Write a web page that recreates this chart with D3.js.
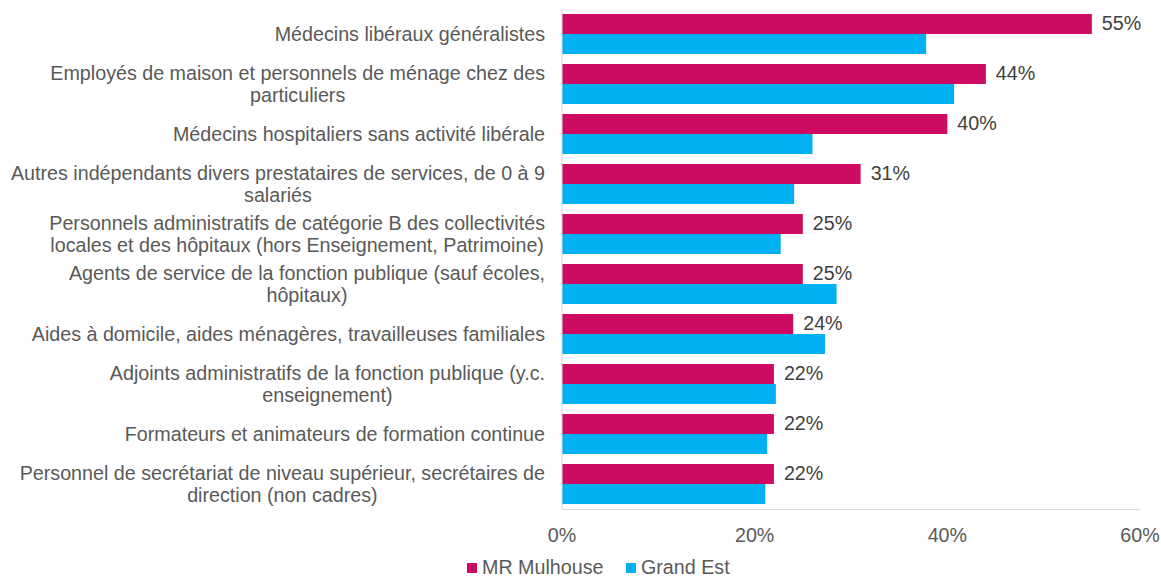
<!DOCTYPE html>
<html>
<head>
<meta charset="utf-8">
<script src="https://cdn.jsdelivr.net/npm/d3@7"></script>
<style>
  html, body { margin: 0; padding: 0; background: #fff; }
  text { font-family: "Liberation Sans", Arial, sans-serif; }
</style>
</head>
<body>
<svg id="chart" width="1161" height="578"></svg>
<script>
const categories = [
  ["Médecins libéraux généralistes"],
  ["Employés de maison et personnels de ménage chez des", "particuliers"],
  ["Médecins hospitaliers sans activité libérale"],
  ["Autres indépendants divers prestataires de services, de 0 à 9", "salariés"],
  ["Personnels administratifs de catégorie B des collectivités", "locales et des hôpitaux (hors Enseignement, Patrimoine)"],
  ["Agents de service de la fonction publique (sauf écoles,", "hôpitaux)"],
  ["Aides à domicile, aides ménagères, travailleuses familiales"],
  ["Adjoints administratifs de la fonction publique (y.c.", "enseignement)"],
  ["Formateurs et animateurs de formation continue"],
  ["Personnel de secrétariat de niveau supérieur, secrétaires de", "direction (non cadres)"]
];
const seriesNames = ["MR Mulhouse", "Grand Est"];
const mrMulhouse = [55, 44, 40, 31, 25, 25, 24, 22, 22, 22];
const grandEst = [37.8, 40.7, 26.0, 24.1, 22.7, 28.5, 27.3, 22.2, 21.3, 21.1];
const xTicks = [0, 20, 40, 60];

(function () {
const colors = ["#CE0B63", "#00B0F0"];
const fs = 19.7;
const svg = d3.select("#chart");
const pLeft = 562, pRight = 1140, pTop = 9, pBottom = 509;

const ids = categories.map((d, i) => i);
const x = d3.scaleLinear().domain([0, 60]).range([pLeft, pRight]);
const y = d3.scaleBand().domain(ids).range([pTop, pBottom]).paddingInner(0.2).paddingOuter(0.1);
const ySub = d3.scaleBand().domain([0, 1]).range([0, y.bandwidth()]);

const series = [mrMulhouse, grandEst];
series.forEach((vals, s) => {
  svg.append("g").selectAll("rect").data(vals).join("rect")
    .attr("x", x(0))
    .attr("y", (d, i) => y(i) + ySub(s))
    .attr("width", d => x(d) - x(0))
    .attr("height", ySub.bandwidth())
    .attr("fill", colors[s]);
});

svg.append("line").attr("x1", x(0)).attr("x2", x(0)).attr("y1", pTop).attr("y2", pBottom)
  .attr("stroke", "#D9D9D9").attr("stroke-width", 1);
svg.append("line").attr("x1", x(0)).attr("x2", x(60)).attr("y1", pBottom + 0.5).attr("y2", pBottom + 0.5)
  .attr("stroke", "#D9D9D9").attr("stroke-width", 1);

svg.append("g").selectAll("text").data(xTicks).join("text")
  .attr("x", d => x(d)).attr("y", 542)
  .attr("text-anchor", "middle")
  .attr("font-size", fs).attr("fill", "#595959")
  .text(d => d + "%");

svg.append("g").selectAll("text").data(mrMulhouse).join("text")
  .attr("x", d => x(d) + 10)
  .attr("y", (d, i) => y(i) + ySub(0) + ySub.bandwidth() / 2 - 1)
  .attr("dy", "0.35em")
  .attr("font-size", fs).attr("fill", "#404040")
  .text(d => d + "%");

const lh = 22;
const cat = svg.append("g").selectAll("text").data(categories).join("text")
  .attr("text-anchor", "middle")
  .attr("font-size", fs).attr("fill", "#595959");
cat.each(function(lines, i) {
  const t = d3.select(this);
  const cy = y(i) + y.bandwidth() / 2;
  const startY = cy - (lines.length - 1) * lh / 2;
  t.selectAll("tspan").data(lines).join("tspan")
    .attr("y", (d, k) => startY + k * lh)
    .attr("dy", "0.35em")
    .text(d => d);
  const widths = [];
  t.selectAll("tspan").each(function() { widths.push(this.getComputedTextLength()); });
  const maxW = d3.max(widths);
  const cx = 545 - maxW / 2;
  t.selectAll("tspan").attr("x", cx);
});

const legend = svg.append("g");
const legX = [467, 626];
seriesNames.forEach((n, s) => {
  legend.append("rect").attr("x", legX[s]).attr("y", 563).attr("width", 10).attr("height", 10).attr("fill", colors[s]);
  legend.append("text").attr("x", legX[s] + 15).attr("y", 567).attr("dy", "0.35em")
    .attr("font-size", fs).attr("fill", "#595959").text(n);
});
})();
</script>
</body>
</html>
